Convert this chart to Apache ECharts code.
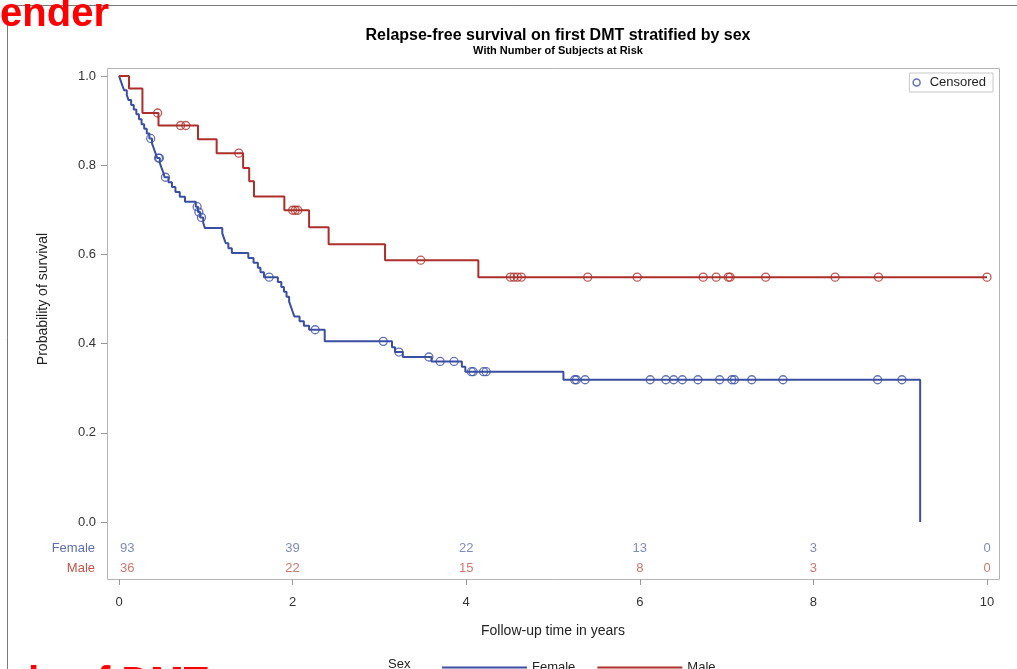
<!DOCTYPE html>
<html><head><meta charset="utf-8">
<script src="https://cdn.jsdelivr.net/npm/echarts@6/dist/echarts.min.js"></script>
<style>html,body{margin:0;padding:0;background:#fff;overflow:hidden}#c{width:1017px;height:669px}</style>
</head><body><div id="c"></div>
<script>
// ---- data ----
const femaleTimes = [0, 0.02, 0.04, 0.06, 0.09, 0.11, 0.14, 0.17, 0.20, 0.23, 0.26, 0.29, 0.32, 0.35,
  0.38, 0.40, 0.42, 0.44, 0.47, 0.49, 0.51, 0.525, 0.57, 0.61, 0.65, 0.70, 0.76, 0.885, 0.91, 0.935, 0.97, 0.99,
  1.19, 1.21, 1.23, 1.26, 1.30, 1.49, 1.55, 1.60, 1.63, 1.67,
  1.83, 1.87, 1.90, 1.93, 1.96, 1.98, 2.00, 2.02, 2.08, 2.13, 2.19, 2.37,
  3.145, 3.18, 3.27, 3.60, 3.95, 3.99, 5.12, 9.23];
const femaleSurv = [1.000, 0.989, 0.978, 0.968, 0.957, 0.946, 0.935, 0.925, 0.914, 0.903, 0.892, 0.882, 0.871, 0.860,
  0.849, 0.838, 0.827, 0.816, 0.805, 0.794, 0.784, 0.773, 0.762, 0.751, 0.740, 0.729, 0.718, 0.707, 0.695, 0.683, 0.671, 0.659,
  0.647, 0.636, 0.625, 0.614, 0.603, 0.592, 0.581, 0.570, 0.560, 0.549,
  0.538, 0.527, 0.516, 0.505, 0.494, 0.483, 0.472, 0.461, 0.450, 0.440, 0.431, 0.405,
  0.392, 0.381, 0.370, 0.360, 0.348, 0.337, 0.319, 0.000];
const femaleCensor = [0.365, 0.455, 0.465, 0.535, 0.90, 0.92, 0.95, 1.73, 2.26, 3.045, 3.225, 3.57, 3.70, 3.86,
  4.06, 4.08, 4.20, 4.23, 5.25, 5.27, 5.37, 6.12, 6.30, 6.39, 6.49, 6.67, 6.92, 7.06, 7.09, 7.29, 7.65, 8.74, 9.02];

const maleTimes = [0, 0.115, 0.27, 0.455, 0.91, 1.125, 1.43, 1.50, 1.555, 1.905, 2.19, 2.415, 3.065, 4.14];
const maleSurv  = [1.000, 0.972, 0.917, 0.889, 0.858, 0.827, 0.794, 0.764, 0.730, 0.699, 0.661, 0.623, 0.587, 0.549];
const maleLastFollowUp = 10.0;
const maleCensor = [0.445, 0.71, 0.77, 1.38, 2.00, 2.03, 2.06, 3.476, 4.51, 4.55, 4.59, 4.635, 5.40, 5.97,
  6.73, 6.88, 7.02, 7.04, 7.45, 8.25, 8.75, 10.0];

const riskTimes = [0, 2, 4, 6, 8, 10];
const femaleAtRisk = [93, 39, 22, 13, 3, 0];
const maleAtRisk = [36, 22, 15, 8, 3, 0];
const groups = ['Female', 'Male'];

// ---- styles ----
const FONT = "'Liberation Sans', Arial, sans-serif";
const BLUE = '#3a4fa2', RED = '#ac2f2b';
const BLUE_T = '#5d6fae', RED_T = '#c4544a';

function survAt(times, surv, t) {
  let s = surv[0];
  for (let i = 0; i < times.length; i++) { if (times[i] <= t) s = surv[i]; }
  return s;
}
const femaleLine = femaleTimes.map((t, i) => [t, femaleSurv[i]]);
const maleLine = maleTimes.map((t, i) => [t, maleSurv[i]]).concat([[maleLastFollowUp, maleSurv[maleSurv.length - 1]]]);
const femaleCens = femaleCensor.map(t => [t, survAt(femaleTimes, femaleSurv, t)]);
const maleCens = maleCensor.map(t => [t, survAt(maleTimes, maleSurv, t)]);
function riskData(group, counts) {
  return riskTimes.map((t, i) => ({ value: [t, group, counts[i]],
    label: i === 0 ? { align: 'left', offset: [1, 0] } : {} }));
}

// plot-area x range padding so the frame sits 12px left of time 0 and 13px right of time 10
const X_PAD_LEFT = -12 / 86.8, X_PAD_RIGHT = 10 + 13 / 86.8;

const chart = echarts.init(document.getElementById('c'), null, { renderer: 'canvas' });
chart.setOption({
  animation: false,
  backgroundColor: '#fff',
  textStyle: { fontFamily: FONT },
  title: {
    text: 'Relapse-free survival on first DMT stratified by sex',
    subtext: 'With Number of Subjects at Risk',
    left: 553, top: 23, textAlign: 'center', itemGap: 1,
    textStyle: { fontFamily: FONT, fontSize: 16, fontWeight: 'bold', color: '#000' },
    subtextStyle: { fontFamily: FONT, fontSize: 11, fontWeight: 'bold', color: '#000' }
  },
  legend: [
    { data: [{ name: 'Censored', icon: 'circle', itemStyle: { color: 'rgba(0,0,0,0)', borderColor: BLUE, borderWidth: 1.5 } }],
      right: 24, top: 73, orient: 'horizontal', itemWidth: 16, itemHeight: 7,
      padding: [3, 7, 3, 3], borderColor: '#c8c8c8', borderWidth: 1,
      textStyle: { fontFamily: FONT, fontSize: 13, color: '#222' }, selectedMode: false },
    { data: ['Female', 'Male'], left: 437, top: 656, icon: 'rect', itemWidth: 85, itemHeight: 2, itemGap: 22,
      textStyle: { fontFamily: FONT, fontSize: 13, color: '#222' }, selectedMode: false }
  ],
  grid: [
    { left: 107, right: 17, top: 76, bottom: 147 },
    { left: 119, right: 30, top: 538, height: 41 }
  ],
  xAxis: [
    { gridIndex: 0, type: 'value', min: X_PAD_LEFT, max: X_PAD_RIGHT, show: false, axisLine: { onZero: false } },
    { gridIndex: 1, type: 'value', min: 0, max: 10, interval: 2,
      axisLine: { show: false, onZero: false }, splitLine: { show: false },
      axisTick: { show: true, length: 6, lineStyle: { color: '#999' } },
      axisLabel: { fontFamily: FONT, fontSize: 13, color: '#333', margin: 17 },
      name: 'Follow-up time in years', nameLocation: 'middle', nameGap: 45,
      nameTextStyle: { fontFamily: FONT, fontSize: 14, color: '#222' } }
  ],
  yAxis: [
    { gridIndex: 0, type: 'value', min: 0, max: 1, interval: 0.2,
      axisLine: { show: false, onZero: false }, splitLine: { show: false },
      axisTick: { show: true, length: 6, lineStyle: { color: '#999' } },
      axisLabel: { fontFamily: FONT, fontSize: 13, color: '#333', margin: 11, formatter: v => v.toFixed(1) },
      name: 'Probability of survival', nameLocation: 'middle', nameGap: 57,
      nameTextStyle: { fontFamily: FONT, fontSize: 14, color: '#222' } },
    { gridIndex: 1, type: 'category', data: groups, inverse: true, offset: 12,
      axisLine: { show: false, onZero: false }, axisTick: { show: false }, splitLine: { show: false },
      axisLabel: { fontFamily: FONT, fontSize: 13, margin: 12,
        formatter: v => v === 'Female' ? '{f|' + v + '}' : '{m|' + v + '}',
        rich: { f: { color: BLUE_T, fontSize: 13, fontFamily: FONT }, m: { color: RED_T, fontSize: 13, fontFamily: FONT } } } }
  ],
  series: [
    { name: 'Female', type: 'line', step: 'end', data: femaleLine, symbol: 'none', showSymbol: false,
      xAxisIndex: 0, yAxisIndex: 0, itemStyle: { color: BLUE }, lineStyle: { color: BLUE, width: 2 }, z: 3 },
    { name: 'Male', type: 'line', step: 'end', data: maleLine, symbol: 'none', showSymbol: false,
      xAxisIndex: 0, yAxisIndex: 0, itemStyle: { color: RED }, lineStyle: { color: RED, width: 2 }, z: 3 },
    { name: 'Censored', type: 'scatter', data: femaleCens, symbol: 'circle', symbolSize: 8, clip: false,
      xAxisIndex: 0, yAxisIndex: 0, itemStyle: { color: 'rgba(0,0,0,0)', borderColor: BLUE, borderWidth: 1.3 }, z: 4 },
    { name: 'Censored', type: 'scatter', data: maleCens, symbol: 'circle', symbolSize: 8, clip: false,
      xAxisIndex: 0, yAxisIndex: 0, itemStyle: { color: 'rgba(0,0,0,0)', borderColor: RED, borderWidth: 1.3 }, z: 4 },
    { name: 'riskF', type: 'scatter', xAxisIndex: 1, yAxisIndex: 1, data: riskData('Female', femaleAtRisk),
      symbolSize: 0, clip: false, silent: true,
      label: { show: true, position: 'inside', formatter: p => String(p.data.value[2]), color: BLUE_T, fontSize: 13, fontFamily: FONT } },
    { name: 'riskM', type: 'scatter', xAxisIndex: 1, yAxisIndex: 1, data: riskData('Male', maleAtRisk),
      symbolSize: 0, clip: false, silent: true,
      label: { show: true, position: 'inside', formatter: p => String(p.data.value[2]), color: RED_T, fontSize: 13, fontFamily: FONT } }
  ],
  graphic: [
    { type: 'rect', shape: { x: 7.5, y: 5.5, width: 1200, height: 800 }, style: { fill: 'none', stroke: '#7a7a7a', lineWidth: 1 }, silent: true },
    { type: 'rect', shape: { x: 107.5, y: 68.5, width: 892, height: 511 }, style: { fill: 'none', stroke: '#b5b5b5', lineWidth: 1 }, silent: true },
    { type: 'text', x: -31, y: -5, style: { text: 'Gender', fill: '#ff0000', font: "bold 40px 'Liberation Sans', Arial, sans-serif", verticalAlign: 'top' }, silent: true },
    { type: 'text', x: -43, y: 664, style: { text: 'Mode of DMT', fill: '#ff0000', font: "bold 40px 'Liberation Sans', Arial, sans-serif", verticalAlign: 'top' }, silent: true },
    { type: 'text', x: 388, y: 664, style: { text: 'Sex', fill: '#222', font: "13px 'Liberation Sans', Arial, sans-serif", verticalAlign: 'middle' }, silent: true }
  ]
});
</script></body></html>
